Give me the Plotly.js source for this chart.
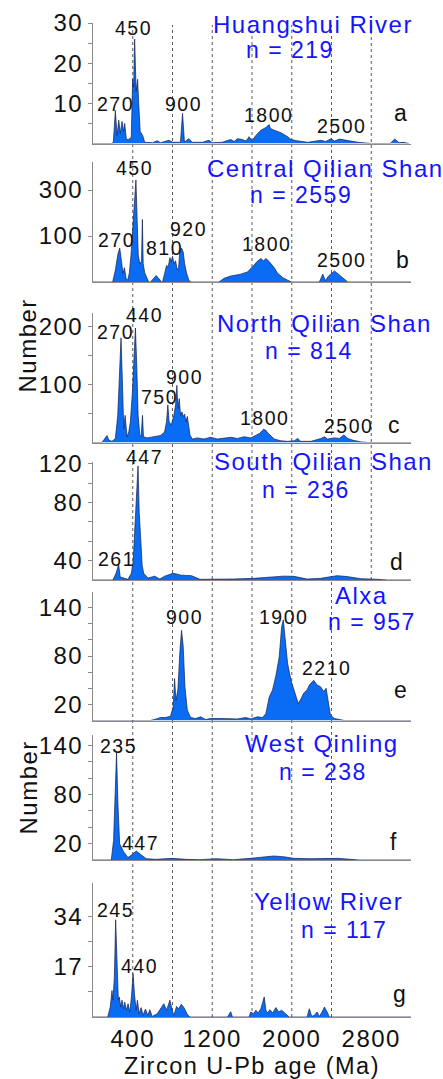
<!DOCTYPE html>
<html><head><meta charset="utf-8">
<script src="https://cdn.plot.ly/plotly-3.0.1.min.js"></script>
<style>
html,body{margin:0;padding:0;background:#fff;}
#chart{width:443px;height:1079px;}
svg text{letter-spacing:1.5px;}
</style></head><body><div id="chart"></div>
<script>
// ---------- DATA (age in Ma, relative probability "Number") ----------
const ages_a = [0, 195, 205, 225, 242, 259, 275, 292, 309, 319,
  336, 356, 385, 399, 409, 419, 434, 449, 460, 475,
  500, 520, 600, 646, 680, 764, 800, 880, 901, 920,
  965, 1000, 1100, 1167, 1200, 1300, 1386, 1420, 1453, 1504,
  1540, 1571, 1600, 1639, 1689, 1740, 1773, 1785, 1824, 1891,
  1958, 1992, 2050, 2160, 2295, 2340, 2396, 2430, 2480, 2564,
  2665, 2800, 2990, 3036, 3080, 3120, 3180];
const counts_a = [0, 0, 0.5, 8.2, 2, 5.8, 2.5, 5.5, 3, 5,
  1, 1, 1.5, 16, 14, 26, 13, 16, 10, 3,
  2, 0.3, 0.2, 0.7, 0.2, 0.8, 0.3, 0.3, 7.5, 0.4,
  1.2, 0.3, 0.3, 0.8, 0.2, 0.3, 1, 0.5, 1.2, 1,
  0.6, 1.7, 0.7, 2, 3.3, 4, 4.7, 3.75, 3.3, 2.7,
  1.7, 1, 0.7, 0.3, 0.8, 0.5, 1.2, 0.6, 1.1, 0.7,
  0.3, 0, 0, 1.1, 0.2, 0.3, 0];

const ages_b = [0, 198, 225, 250, 269, 282, 302, 316, 333, 350,
  366, 383, 400, 415, 432, 445, 455, 470, 488, 497,
  505, 520, 545, 560, 578, 610, 636, 660, 690, 700,
  720, 740, 757, 774, 787, 800, 814, 831, 848, 861,
  875, 891, 908, 922, 942, 965, 982, 1268, 1319, 1386,
  1487, 1555, 1605, 1649, 1689, 1716, 1740, 1763, 1790, 1824,
  1858, 1908, 1958, 1999, 2278, 2312, 2339, 2370, 2430, 2480,
  2531, 2564, 3200];
const counts_b = [0, 0, 26, 60, 74, 54, 19, 31, 8, 4,
  20, 60, 110, 170, 222, 130, 60, 40, 45, 136,
  40, 20, 5, 0, 0, 8, 14, 8, 0, 0,
  19, 36, 33, 53, 44, 56, 40, 46, 26, 31,
  69, 74, 65, 40, 19, 4, 0, 0, 8, 13,
  17, 22, 33, 44, 51, 46, 51, 47, 40, 31,
  19, 10, 4, 0, 0, 17, 3, 13, 24, 15,
  4, 0, 0];

const ages_c = [0, 90, 141, 160, 191, 225, 249, 268, 282, 296,
  309, 323, 333, 343, 360, 376, 397, 410, 427, 440,
  454, 471, 484, 498, 508, 545, 612, 679, 720, 740,
  753, 766, 787, 814, 831, 844, 854, 868, 881, 895,
  908, 922, 935, 949, 962, 976, 999, 1050, 1117, 1184,
  1252, 1319, 1386, 1454, 1521, 1588, 1639, 1679, 1716, 1740,
  1763, 1790, 1824, 1891, 1958, 2026, 2059, 2090, 2194, 2295,
  2329, 2360, 2430, 2480, 2524, 2564, 2615, 2699, 2766, 3200];
const counts_c = [0, 0, 12, 4, 2, 7, 47, 134, 181, 105,
  24, 47, 30, 10, 18, 36, 88, 151, 198, 134,
  47, 13, 10, 47, 10, 8, 10, 12, 18, 36,
  65, 36, 30, 47, 65, 99, 59, 76, 47, 53,
  45, 49, 36, 45, 30, 13, 6, 8, 6, 9,
  6, 8, 9, 7, 10, 8, 13, 16, 23, 21,
  16, 12, 6, 3, 2, 3, 7, 2, 2, 7,
  10, 6, 8, 7, 13, 7, 4, 1, 0, 0];

const ages_d = [0, 200, 232, 258, 274, 352, 386, 405, 419, 440,
  453, 465, 478, 495, 510, 554, 621, 672, 722, 806,
  890, 991, 1076, 1244, 1413, 1616, 1750, 1919, 2020, 2155,
  2290, 2458, 2559, 2694, 2862, 2963, 3200];
const counts_d = [0, 0, 7, 16, 3, 0.7, 7, 20, 49, 85,
  118, 70, 40, 15, 7, 2, 4, 1, 4, 7,
  5, 4.5, 0.7, 0.7, 1, 1.7, 2.8, 4, 3.8, 1,
  1.7, 4.5, 3.5, 1.4, 0.7, 0, 0];

const ages_e = [0, 578, 629, 679, 730, 780, 807, 821, 834, 854,
  875, 891, 908, 925, 949, 982, 1033, 1083, 1134, 1184,
  1285, 1386, 1454, 1538, 1588, 1656, 1706, 1740, 1773, 1807,
  1841, 1874, 1898, 1915, 1932, 1958, 1992, 2026, 2066, 2093,
  2120, 2154, 2177, 2221, 2255, 2289, 2322, 2346, 2362, 2389,
  2430, 2497, 2531, 3200];
const counts_e = [0, 0, 1.7, 3.7, 3.7, 5.4, 17, 52, 25, 38,
  87, 112, 92, 42, 13, 3.7, 2.5, 4.6, 1.2, 2.5,
  2.5, 1.7, 2, 3.7, 2, 4.6, 3.7, 8.7, 29, 38,
  56, 79, 116, 125, 100, 71, 50, 36, 21, 27,
  34, 38, 44, 50, 44, 42, 36, 40, 25, 6.6,
  2.5, 1.2, 0, 0];

const ages_f = [0, 184, 207, 227, 237, 251, 268, 308, 352, 386,
  436, 487, 537, 638, 790, 941, 1076, 1244, 1413, 1581,
  1716, 1817, 1919, 2020, 2189, 2458, 2593, 2677, 3200];
const counts_f = [0, 0, 24, 110, 131, 69, 20, 10, 3, 6,
  11, 6, 1.6, 0.8, 2, 0.8, 0.4, 1.6, 0.4, 2,
  4, 4.9, 4, 2, 1.6, 2, 0.8, 0, 0];

const ages_g = [0, 148, 174, 191, 201, 215, 228, 242, 255, 265,
  279, 292, 306, 319, 336, 353, 370, 387, 403, 417,
  434, 447, 464, 484, 504, 528, 551, 572, 595, 646,
  679, 713, 740, 774, 797, 814, 841, 861, 888, 915,
  949, 976, 1353, 1369, 1386, 1403, 1571, 1588, 1615, 1639,
  1662, 1689, 1706, 1723, 1740, 1757, 1780, 1807, 1841, 1868,
  1898, 1942, 1975, 2154, 2177, 2201, 2228, 2255, 2278, 2305,
  2329, 2356, 2379, 3200];
const counts_g = [0, 0, 3.4, 9, 5.7, 13.6, 33, 13.6, 5.7, 6.8,
  3.4, 5.7, 2.8, 5.1, 2.3, 4.5, 1.7, 6.8, 14.7, 7.9,
  2.3, 5.7, 1.1, 3.2, 0.6, 2.7, 0.6, 2.5, 0.2, 1.1,
  2.8, 4.5, 2.3, 5.7, 2.3, 0.6, 3.6, 2.8, 4.3, 3.2,
  0.9, 0, 0, 1.1, 1.8, 0, 0, 1.7, 1.1, 2.3,
  1.4, 2.8, 4.5, 6.8, 2.3, 1.4, 2.5, 1.4, 3.2, 1.7,
  2.3, 0.9, 0, 0, 2.8, 0.2, 0.6, 1.7, 0.2, 1.7,
  3.4, 1.7, 0, 0];

// tick values and tick labels (as printed in the figure)
const ytick_a = [5, 10, 15, 20, 25, 30];       const ylab_a = ['', '10', '', '20', '', '30'];
const ytick_b = [100, 200];                     const ylab_b = ['100', '300'];
const ytick_c = [50, 100, 150, 200];            const ylab_c = ['', '100', '', '200'];
const ytick_d = [20, 40, 60, 80, 100, 120];     const ylab_d = ['40', '', '', '80', '', '120'];
const ytick_e = [20, 40, 60, 80, 100, 120, 140]; const ylab_e = ['20', '', '', '80', '', '', '140'];
const ytick_f = [20, 40, 60, 80, 100, 120, 140]; const ylab_f = ['20', '', '', '80', '', '', '140'];
const ytick_g = [8.5, 17, 25.5, 34];            const ylab_g = ['', '17', '', '34'];
const xtick = [400, 1200, 2000, 2800];
const guideAges = [400, 800, 1200, 1600, 2000, 2400, 2800];

const sites = ['Huangshui River', 'Central Qilian Shan', 'North Qilian Shan', 'South Qilian Shan', 'Alxa', 'West Qinling', 'Yellow River'];
const nvals = [219, 2559, 814, 236, 957, 238, 117];
const letters = ['a', 'b', 'c', 'd', 'e', 'f', 'g'];
const peaks_a = ['270', '450', '900', '1800', '2500'];
const peaks_b = ['450', '270', '810', '920', '1800', '2500'];
const peaks_c = ['440', '270', '750', '900', '1800', '2500'];
const peaks_d = ['447', '261'];
const peaks_e = ['900', '1900', '2210'];
const peaks_f = ['235', '447'];
const peaks_g = ['245', '440'];

// ---------- LAYOUT ----------
const W = 443, H = 1079, ML = 93, MR = 32, MT = 0, MB = 62;
const PW = W - ML - MR, PH = H - MT - MB;
const px = x => (x - ML) / PW;
const py = y => (MT + PH - y) / PH;
const FONT = '"Liberation Sans", Arial, sans-serif';
const BLUE_TXT = '#1414ff';
const FILL = '#0a6cf5';
const INK = '#111111';
const AXC = '#8a8a8a';

const panels = [
  {x: ages_a, y: counts_a, top: 23,  base: 143.5, ymax: 30,    tv: ytick_a, tt: ylab_a},
  {x: ages_b, y: counts_b, top: 162, base: 282,   ymax: 261,   tv: ytick_b, tt: ylab_b},
  {x: ages_c, y: counts_c, top: 313, base: 442.5, ymax: 224,   tv: ytick_c, tt: ylab_c},
  {x: ages_d, y: counts_d, top: 462, base: 580,   ymax: 122,   tv: ytick_d, tt: ylab_d},
  {x: ages_e, y: counts_e, top: 592, base: 720.5, ymax: 159.6, tv: ytick_e, tt: ylab_e},
  {x: ages_f, y: counts_f, top: 735, base: 860,   ymax: 153,   tv: ytick_f, tt: ylab_f},
  {x: ages_g, y: counts_g, top: 883, base: 1017,  ymax: 45.5,  tv: ytick_g, tt: ylab_g}
];

const traces = [];
const layout = {
  width: W, height: H,
  margin: {l: ML, r: MR, t: MT, b: MB, pad: 0},
  paper_bgcolor: '#ffffff', plot_bgcolor: 'rgba(0,0,0,0)',
  showlegend: false,
  font: {family: FONT, color: INK, size: 20},
  shapes: [], annotations: []
};

panels.forEach((p, i) => {
  const s = i === 0 ? '' : String(i + 1);
  traces.push({
    type: 'scatter', mode: 'lines', x: p.x, y: p.y,
    xaxis: 'x' + s, yaxis: 'y' + s,
    fill: 'tozeroy', fillcolor: FILL,
    line: {color: '#14204a', width: 0.7},
    hoverinfo: 'skip'
  });
  const last = i === panels.length - 1;
  layout['xaxis' + s] = {
    domain: [0, 1], range: [0, 3200], anchor: 'y' + s,
    showline: true, linecolor: AXC, linewidth: 1,
    showgrid: false, zeroline: false, ticks: '', fixedrange: true,
    showticklabels: last, automargin: false,
    tickvals: last ? xtick : undefined,
    ticktext: last ? xtick.map(String) : undefined,
    tickfont: {family: FONT, size: 24, color: INK},
    title: last ? {text: 'Zircon U-Pb age (Ma)', font: {family: FONT, size: 23.5, color: INK}, standoff: 6} : undefined
  };
  layout['yaxis' + s] = {
    domain: [Math.max(0, py(p.base)), py(p.top)], range: [0, p.ymax], anchor: 'x' + s,
    showline: true, linecolor: AXC, linewidth: 1,
    ticks: 'outside', ticklen: 4, tickcolor: AXC, tickwidth: 1,
    tickvals: p.tv, ticktext: p.tt,
    tickfont: {family: FONT, size: 24, color: INK},
    showgrid: false, zeroline: false, fixedrange: true, automargin: false
  };
});

// dashed guide lines across panels
guideAges.forEach(a => {
  layout.shapes.push({
    type: 'line', xref: 'x7', yref: 'paper', x0: a, x1: a,
    y0: a === 2800 ? py(580) : 0, y1: py(25),
    line: {color: '#5a5a5a', width: 1, dash: 'dot'}, layer: 'below'
  });
});

function ann(text, x, y, size, color, angle) {
  layout.annotations.push({
    text: text, xref: 'paper', yref: 'paper', x: px(x), y: py(y),
    xanchor: 'center', yanchor: 'middle', showarrow: false,
    textangle: angle || 0, borderpad: 0,
    font: {family: FONT, size: size, color: color}
  });
}

// site names and n
const titlePos = [[313, 24], [325, 168.5], [324, 323.5], [323, 462], [361, 595], [322, 743.5], [328.5, 901.5]];
const nPos = [[290, 50], [301, 194.5], [309, 351], [306, 489.5], [371.5, 621.5], [322.5, 771.5], [344, 929.5]];
const letterPos = [[401, 113], [402.5, 260], [394, 425], [396.5, 561.5], [401, 690], [394, 841.5], [400, 993.5]];
sites.forEach((t, i) => {
  ann(t, titlePos[i][0], titlePos[i][1], 24, BLUE_TXT);
  ann('n = ' + nvals[i], nPos[i][0], nPos[i][1], 23, BLUE_TXT);
  ann(letters[i], letterPos[i][0], letterPos[i][1], 23, INK);
});

// peak labels
const peakSets = [
  [peaks_a, [[115, 104], [133.5, 27.5], [183.5, 104], [268, 115.5], [341, 126]]],
  [peaks_b, [[134, 167.5], [116, 239.5], [164, 248], [188.5, 228.5], [266.5, 243.5], [341.5, 260.5]]],
  [peaks_c, [[144, 314.5], [115, 331.5], [159, 397], [184, 377], [264, 417.5], [348.5, 425.5]]],
  [peaks_d, [[144, 456.5], [116.5, 558.5]]],
  [peaks_e, [[184, 617.5], [283, 617.5], [326, 667.5]]],
  [peaks_f, [[118.5, 745.5], [140, 842.5]]],
  [peaks_g, [[115, 910], [139.5, 965.5]]]
];
peakSets.forEach(([labels, pos]) => {
  labels.forEach((t, j) => ann(t, pos[j][0], pos[j][1], 19.5, INK));
});

// y axis titles
ann('Number', 27, 345.5, 24, INK, -90);
ann('Number', 28, 787.5, 24, INK, -90);

Plotly.newPlot('chart', traces, layout, {staticPlot: true, displayModeBar: false});
</script></body></html>
